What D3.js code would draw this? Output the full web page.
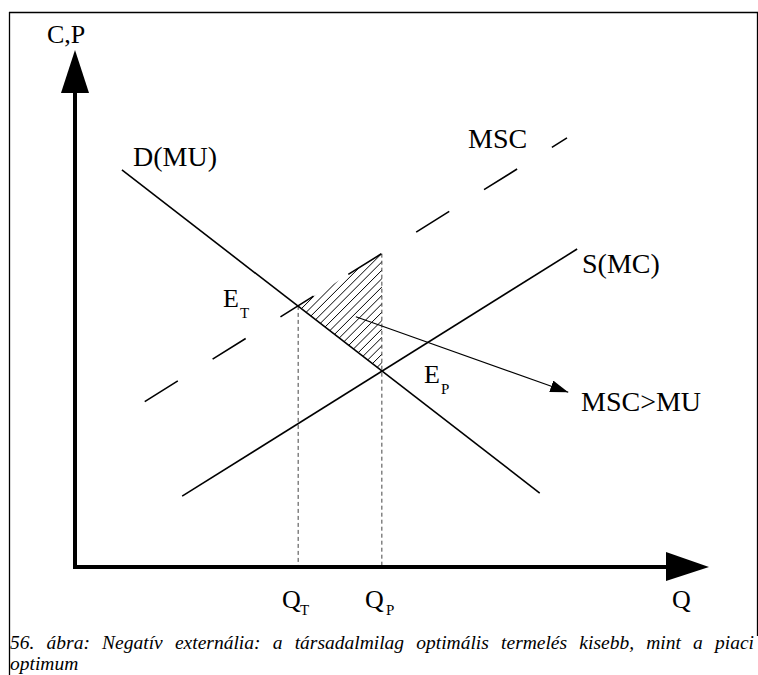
<!DOCTYPE html>
<html><head><meta charset="utf-8">
<script src="https://cdn.jsdelivr.net/npm/d3@7/dist/d3.min.js"></script>
<style>html,body{margin:0;padding:0;background:#fff;}svg{display:block;}</style>
</head><body>
<svg id="c" width="758" height="675"></svg>
<script>
// ---- data (economic units) ----
const demand = [{q:0.74,p:7.68},{q:7.33,p:1.43}];      // D(MU)
const supply = [{q:1.69,p:1.37},{q:7.92,p:6.15}];      // S(MC)
const msc    = [{q:1.10,p:3.20},{q:7.76,p:8.30}];      // MSC
const eqT = {q:3.52,p:5.05};                           // E_T
const eqP = {q:4.84,p:3.79};                           // E_P
const mscAtQP = {q:4.84,p:6.06};
const arrowPts = [{q:4.43,p:4.84},{q:7.78,p:3.38}];    // pointer to MSC>MU
const curveLabels = ["D(MU)","MSC","S(MC)","MSC>MU"];
const axisLabels = ["C,P","Q"];
const caption = ["56. ábra: Negatív externália: a társadalmilag optimális termelés kisebb, mint a piaci","optimum"];

const svg = d3.select("#c");
const x = d3.scaleLinear().domain([0,10]).range([75,709]);
const y = d3.scaleLinear().domain([0,10]).range([567,50]);
const line = d3.line().x(d=>x(d.q)).y(d=>y(d.p));
const FONT = "'Liberation Serif','Times New Roman',Times,serif";

// frame
svg.append("line").attr("x1",9.5).attr("y1",12).attr("x2",9.5).attr("y2",675).attr("stroke","#000").attr("stroke-width",1.3);
svg.append("line").attr("x1",9).attr("y1",12.5).attr("x2",758).attr("y2",12.5).attr("stroke","#000").attr("stroke-width",1.3);
svg.append("line").attr("x1",757.5).attr("y1",12).attr("x2",757.5).attr("y2",636).attr("stroke","#000").attr("stroke-width",1.3);

// hatch (clipped to triangle E_T - MSC(qP) - E_P)
const tri = [eqT, mscAtQP, eqP];
svg.append("clipPath").attr("id","tri").append("path")
  .attr("d", line(tri)+"Z");
const hg = svg.append("g").attr("clip-path","url(#tri)");
const cMin = x(eqT.q)+y(eqT.p), cMax = x(eqP.q)+y(eqP.p);
for(let c=cMin+6; c<cMax; c+=8.4){
  hg.append("line").attr("x1",c-600).attr("y1",600).attr("x2",c-100).attr("y2",100)
    .attr("stroke","#000").attr("stroke-width",1);
}

// dotted verticals
[[eqT.q, eqT.p],[mscAtQP.q, mscAtQP.p]].forEach(([q,p])=>{
  svg.append("line").attr("x1",x(q)).attr("x2",x(q)).attr("y1",y(p)).attr("y2",y(0))
    .attr("stroke","#444").attr("stroke-width",1).attr("stroke-dasharray","4,3");
});

// curves
svg.append("path").attr("d",line(demand)).attr("stroke","#000").attr("stroke-width",1.6).attr("fill","none");
svg.append("path").attr("d",line(supply)).attr("stroke","#000").attr("stroke-width",1.6).attr("fill","none");
svg.append("path").attr("d",line(msc)).attr("stroke","#000").attr("stroke-width",1.6).attr("fill","none")
  .attr("stroke-dasharray","39,41");

// arrow pointer
const defs = svg.append("defs");
defs.append("marker").attr("id","ah").attr("viewBox","0 0 18 12").attr("refX",18).attr("refY",6)
  .attr("markerWidth",18).attr("markerHeight",12).attr("markerUnits","userSpaceOnUse").attr("orient","auto")
  .append("path").attr("d","M0,0L18,6L0,12Z").attr("fill","#000");
svg.append("path").attr("d",line(arrowPts)).attr("stroke","#000").attr("stroke-width",1.1).attr("fill","none")
  .attr("marker-end","url(#ah)");

// axes
svg.append("line").attr("x1",x(0)).attr("y1",y(0)+2).attr("x2",x(0)).attr("y2",92).attr("stroke","#000").attr("stroke-width",4);
svg.append("path").attr("d",`M${x(0)},${y(10)}L${x(0)-14},93L${x(0)+14},93Z`).attr("fill","#000");
svg.append("line").attr("x1",x(0)-2).attr("y1",y(0)).attr("x2",667).attr("y2",y(0)).attr("stroke","#000").attr("stroke-width",4);
svg.append("path").attr("d",`M${x(10)},${y(0)}L666,${y(0)-15}L666,${y(0)+14}Z`).attr("fill","#000");

// labels
function txt(s, px, py, size){
  return svg.append("text").attr("x",px).attr("y",py).attr("font-family",FONT).attr("font-size",size).attr("fill","#000").text(s);
}
txt(axisLabels[0], 47, 43, 26);
txt(axisLabels[1], 672, 608, 26);
txt(curveLabels[0], 133, 166, 28);
txt(curveLabels[1], 468, 148, 28);
txt(curveLabels[2], 582, 273, 28);
txt(curveLabels[3], 581, 411, 28);
txt("E", 223, 307, 26); txt("T", 240, 318, 15);
txt("E", 424, 383, 26); txt("P", 441, 394, 15);
txt("Q", 282, 608, 26); txt("T", 300, 615, 15);
txt("Q", 365, 608, 26); txt("P", 386, 615, 15);

// caption (first line justified)
caption.forEach((s,i)=>{
  const t = svg.append("text").attr("x",10).attr("y",649+i*21).attr("font-family",FONT).attr("font-style","italic")
    .attr("font-size",19.5).attr("fill","#000").text(s);
  if(i===0){
    const len = t.node().getComputedTextLength();
    const spaces = s.split(" ").length-1;
    const ws = Math.max(0,(744-len)/spaces);
    t.attr("word-spacing", ws);
  }
});
</script>
</body></html>
